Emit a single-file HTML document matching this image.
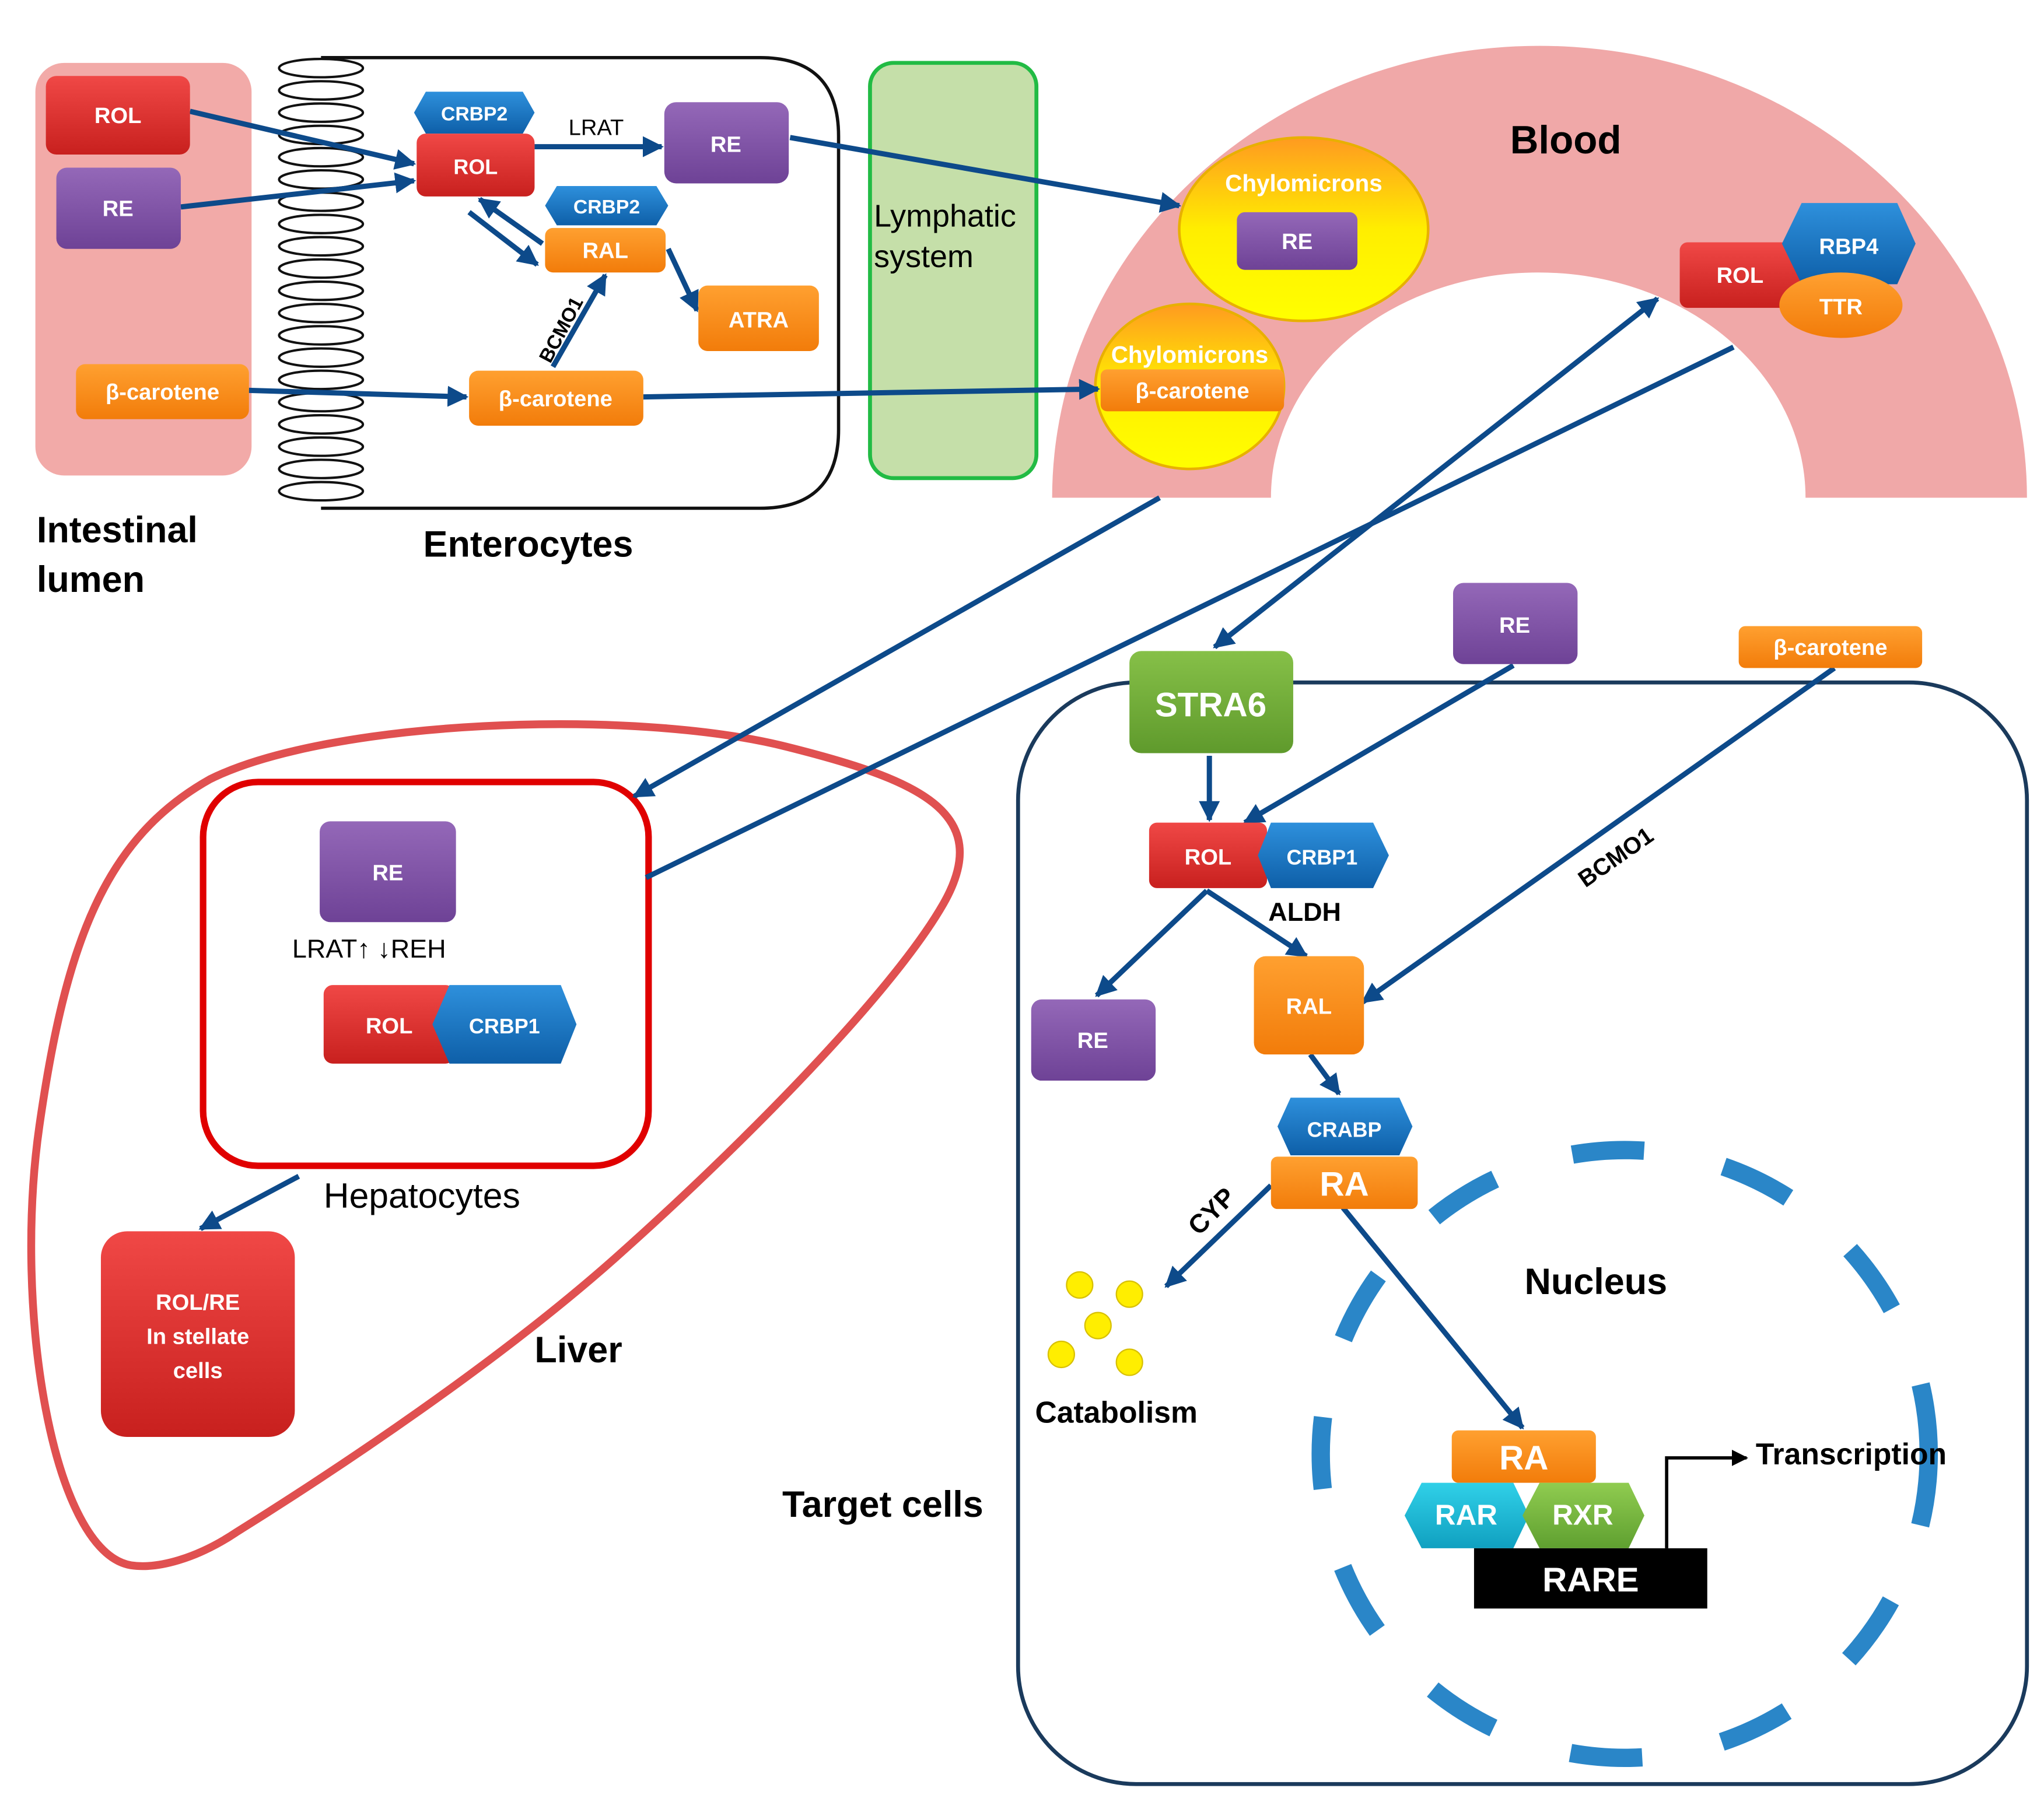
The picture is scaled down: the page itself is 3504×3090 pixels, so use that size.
<!DOCTYPE html>
<html><head><meta charset="utf-8"><style>html,body{margin:0;padding:0;background:#fff}svg{display:block}
text{font-family:"Liberation Sans",sans-serif}</style></head><body>
<svg width="3504" height="3090" viewBox="0 0 1560 1375.7" preserveAspectRatio="none" xmlns="http://www.w3.org/2000/svg">
<defs>
<marker id="a" viewBox="0 0 10 10" refX="9" refY="5" markerWidth="4" markerHeight="4" orient="auto-start-reverse"><path d="M0,0L10,5L0,10z" fill="#0d4a8a"/></marker>
<marker id="k" viewBox="0 0 10 10" refX="9" refY="5" markerWidth="5" markerHeight="5" orient="auto"><path d="M0,0L10,5L0,10z" fill="#000"/></marker>
<linearGradient id="gr" x1="0" y1="0" x2="0" y2="1"><stop offset="0" stop-color="#f04846"/><stop offset="1" stop-color="#c8201e"/></linearGradient>
<linearGradient id="gp" x1="0" y1="0" x2="0" y2="1"><stop offset="0" stop-color="#9468b8"/><stop offset="1" stop-color="#6e4296"/></linearGradient>
<linearGradient id="go" x1="0" y1="0" x2="0" y2="1"><stop offset="0" stop-color="#ffa030"/><stop offset="1" stop-color="#f27c0a"/></linearGradient>
<linearGradient id="gb" x1="0" y1="0" x2="0" y2="1"><stop offset="0" stop-color="#2e90dc"/><stop offset="1" stop-color="#0e5fa8"/></linearGradient>
<linearGradient id="gg" x1="0" y1="0" x2="0" y2="1"><stop offset="0" stop-color="#86c048"/><stop offset="1" stop-color="#5f9a2c"/></linearGradient>
<linearGradient id="gy" x1="0" y1="0" x2="0" y2="1"><stop offset="0" stop-color="#ff9a20"/><stop offset="0.5" stop-color="#ffee00"/><stop offset="1" stop-color="#ffff00"/></linearGradient>
<linearGradient id="gc" x1="0" y1="0" x2="0" y2="1"><stop offset="0" stop-color="#30d0e8"/><stop offset="1" stop-color="#10a0c0"/></linearGradient>
<linearGradient id="gx" x1="0" y1="0" x2="0" y2="1"><stop offset="0" stop-color="#90cc50"/><stop offset="1" stop-color="#5fa030"/></linearGradient>
</defs>
<!-- intestinal lumen -->
<rect x="27" y="48" width="165" height="315" rx="22" fill="#f2aaa8"/>
<!-- enterocyte -->
<path d="M245,44 H580 Q640,44 640,104 V328 Q640,388 580,388 H245" fill="none" stroke="#111" stroke-width="2.5"/>
<g fill="none" stroke="#111" stroke-width="1.8">
<ellipse cx="245" cy="52" rx="32" ry="7"/><ellipse cx="245" cy="69" rx="32" ry="7"/><ellipse cx="245" cy="86" rx="32" ry="7"/><ellipse cx="245" cy="103" rx="32" ry="7"/><ellipse cx="245" cy="120" rx="32" ry="7"/><ellipse cx="245" cy="137" rx="32" ry="7"/><ellipse cx="245" cy="154" rx="32" ry="7"/><ellipse cx="245" cy="171" rx="32" ry="7"/><ellipse cx="245" cy="188" rx="32" ry="7"/><ellipse cx="245" cy="205" rx="32" ry="7"/><ellipse cx="245" cy="222" rx="32" ry="7"/><ellipse cx="245" cy="239" rx="32" ry="7"/><ellipse cx="245" cy="256" rx="32" ry="7"/><ellipse cx="245" cy="273" rx="32" ry="7"/><ellipse cx="245" cy="290" rx="32" ry="7"/><ellipse cx="245" cy="307" rx="32" ry="7"/><ellipse cx="245" cy="324" rx="32" ry="7"/><ellipse cx="245" cy="341" rx="32" ry="7"/><ellipse cx="245" cy="358" rx="32" ry="7"/><ellipse cx="245" cy="375" rx="32" ry="7"/>
</g>
<!-- lymphatic -->
<rect x="664" y="48" width="127" height="317" rx="18" fill="#c5dfa9" stroke="#22bb44" stroke-width="3"/>
<text x="667" y="173" font-size="24">Lymphatic</text><text x="667" y="204" font-size="24">system</text>
<!-- blood -->
<path d="M803,380 A372,345 0 0 1 1547,380 H1378 A204,172 0 0 0 970,380 Z" fill="#f0a8a8"/>
<text x="1195" y="117" font-size="30" font-weight="bold" text-anchor="middle">Blood</text>
<ellipse cx="995" cy="175" rx="95" ry="70" fill="url(#gy)" stroke="#e8b000" stroke-width="2"/>
<text x="995" y="146" font-size="18" font-weight="bold" fill="#fff" text-anchor="middle">Chylomicrons</text>
<ellipse cx="908" cy="295" rx="72" ry="63" fill="url(#gy)" stroke="#e8b000" stroke-width="2"/>
<text x="908" y="277" font-size="18" font-weight="bold" fill="#fff" text-anchor="middle">Chylomicrons</text>
<!-- liver -->
<path d="M100,1195 C40,1185 10,1000 30,860 C50,720 80,640 160,595 C250,550 480,540 600,570 C700,595 760,620 720,690 C680,760 560,880 470,960 C380,1040 260,1120 180,1170 C150,1190 120,1198 100,1195 Z" fill="none" stroke="#e05050" stroke-width="6"/>
<rect x="155" y="597" width="340" height="293" rx="42" fill="#fff" stroke="#e00000" stroke-width="5"/>
<!-- target cells -->
<rect x="777" y="521" width="770" height="841" rx="90" fill="none" stroke="#1a3a5c" stroke-width="3"/>
<circle cx="1240" cy="1110" r="232" fill="none" stroke="#2a86c8" stroke-width="14" stroke-dasharray="55,62"/>
<!-- arrows -->
<g stroke="#0d4a8a" stroke-width="4" fill="none" marker-end="url(#a)">
<line x1="145" y1="85" x2="316" y2="125"/>
<line x1="138" y1="158" x2="316" y2="138"/>
<line x1="190" y1="298" x2="356" y2="303"/>
<line x1="408" y1="112" x2="505" y2="112"/>
<line x1="414" y1="186" x2="366" y2="152"/>
<line x1="358" y1="162" x2="410" y2="202"/>
<line x1="510" y1="190" x2="532" y2="237"/>
<line x1="422" y1="280" x2="462" y2="210"/>
<line x1="491" y1="303" x2="838" y2="297"/>
<line x1="603" y1="105" x2="900" y2="157"/>
<line x1="885" y1="380" x2="484" y2="608"/>
<line x1="927" y1="494" x2="1265" y2="228" marker-start="url(#a)"/>
<line x1="923" y1="577" x2="923" y2="626"/>
<line x1="1155" y1="508" x2="950" y2="628"/>
<line x1="1400" y1="510" x2="1040" y2="765"/>
<line x1="921" y1="680" x2="837" y2="760"/>
<line x1="921" y1="680" x2="997" y2="730"/>
<line x1="1000" y1="805" x2="1022" y2="835"/>
<line x1="970" y1="905" x2="890" y2="982"/>
<line x1="1025" y1="922" x2="1162" y2="1090"/>
<line x1="228" y1="898" x2="153" y2="938"/>
</g>
<line x1="1323" y1="265" x2="493" y2="670" stroke="#0d4a8a" stroke-width="4"/>
<!-- boxes -->
<g font-weight="bold" fill="#fff" text-anchor="middle" font-size="17">
<rect x="35" y="58" width="110" height="60" rx="8" fill="url(#gr)"/><text x="90" y="94" fill="#fff">ROL</text>
<rect x="43" y="128" width="95" height="62" rx="8" fill="url(#gp)"/><text x="90" y="165" fill="#fff">RE</text>
<rect x="58" y="278" width="132" height="42" rx="7" fill="url(#go)"/><text x="124" y="305" fill="#fff">β-carotene</text>
<polygon points="325,70 399,70 408,86 399,102 325,102 316,86" fill="url(#gb)"/><text x="362" y="92" font-size="15" fill="#fff">CRBP2</text>
<rect x="318" y="102" width="90" height="48" rx="7" fill="url(#gr)"/><text x="363" y="133" font-size="16" fill="#fff">ROL</text>
<rect x="507" y="78" width="95" height="62" rx="9" fill="url(#gp)"/><text x="554" y="116" fill="#fff">RE</text>
<polygon points="425,142 501,142 510,157 501,172 425,172 416,157" fill="url(#gb)"/><text x="463" y="163" font-size="15" fill="#fff">CRBP2</text>
<rect x="416" y="174" width="92" height="34" rx="6" fill="url(#go)"/><text x="462" y="197" fill="#fff">RAL</text>
<rect x="533" y="218" width="92" height="50" rx="7" fill="url(#go)"/><text x="579" y="250" fill="#fff">ATRA</text>
<rect x="358" y="283" width="133" height="42" rx="7" fill="url(#go)"/><text x="424" y="310" fill="#fff">β-carotene</text>
<rect x="944" y="162" width="92" height="44" rx="6" fill="url(#gp)"/><text x="990" y="190" fill="#fff">RE</text>
<rect x="840" y="282" width="140" height="32" rx="5" fill="url(#go)"/><text x="910" y="304" fill="#fff">β-carotene</text>
<rect x="1282" y="185" width="92" height="50" rx="6" fill="url(#gr)"/><text x="1328" y="216" fill="#fff">ROL</text>
<polygon points="1375,155 1448,155 1462,186 1448,217 1375,217 1360,186" fill="url(#gb)"/><text x="1411" y="194" fill="#fff">RBP4</text>
<ellipse cx="1405" cy="233" rx="47" ry="25" fill="url(#go)"/><text x="1405" y="240" fill="#fff">TTR</text>
<rect x="862" y="497" width="125" height="78" rx="9" fill="url(#gg)"/><text x="924" y="547" font-size="26" fill="#fff">STRA6</text>
<rect x="1109" y="445" width="95" height="62" rx="8" fill="url(#gp)"/><text x="1156" y="483" fill="#fff">RE</text>
<rect x="1327" y="478" width="140" height="32" rx="5" fill="url(#go)"/><text x="1397" y="500" fill="#fff">β-carotene</text>
<rect x="877" y="628" width="90" height="50" rx="6" fill="url(#gr)"/><text x="922" y="660" fill="#fff">ROL</text>
<polygon points="970,628 1048,628 1060,653 1048,678 970,678 960,653" fill="url(#gb)"/><text x="1009" y="660" font-size="16" fill="#fff">CRBP1</text>
<rect x="787" y="763" width="95" height="62" rx="8" fill="url(#gp)"/><text x="834" y="800" fill="#fff">RE</text>
<rect x="957" y="730" width="84" height="75" rx="9" fill="url(#go)"/><text x="999" y="774" fill="#fff">RAL</text>
<polygon points="985,838 1068,838 1078,860 1068,882 985,882 975,860" fill="url(#gb)"/><text x="1026" y="868" font-size="16" fill="#fff">CRABP</text>
<rect x="970" y="883" width="112" height="40" rx="5" fill="url(#go)"/><text x="1026" y="913" font-size="26" fill="#fff">RA</text>
<rect x="1108" y="1092" width="110" height="40" rx="5" fill="url(#go)"/><text x="1163" y="1122" font-size="26" fill="#fff">RA</text>
<polygon points="1085,1132 1155,1132 1167,1157 1155,1182 1085,1182 1072,1157" fill="url(#gc)"/><text x="1119" y="1164" font-size="22" fill="#fff">RAR</text>
<polygon points="1175,1132 1243,1132 1255,1157 1243,1182 1175,1182 1162,1157" fill="url(#gx)"/><text x="1208" y="1164" font-size="22" fill="#fff">RXR</text>
<rect x="1125" y="1182" width="178" height="46" fill="#000"/><text x="1214" y="1215" font-size="26" fill="#fff">RARE</text>
<rect x="244" y="627" width="104" height="77" rx="8" fill="url(#gp)"/><text x="296" y="672" fill="#fff">RE</text>
<rect x="247" y="752" width="100" height="60" rx="7" fill="url(#gr)"/><text x="297" y="789" fill="#fff">ROL</text>
<polygon points="343,752 428,752 440,782 428,812 343,812 330,782" fill="url(#gb)"/><text x="385" y="789" font-size="16" fill="#fff">CRBP1</text>
<rect x="77" y="940" width="148" height="157" rx="20" fill="url(#gr)"/>
<text x="151" y="1000" fill="#fff">ROL/RE</text><text x="151" y="1026" fill="#fff">In stellate</text><text x="151" y="1052" fill="#fff">cells</text>
</g>
<!-- yellow dots -->
<g fill="#ffee00" stroke="#d8c000" stroke-width="1"><circle cx="824" cy="981" r="10"/><circle cx="862" cy="988" r="10"/><circle cx="838" cy="1012" r="10"/><circle cx="810" cy="1034" r="10"/><circle cx="862" cy="1040" r="10"/></g>
<!-- transcription -->
<polyline points="1272,1182 1272,1113 1333,1113" fill="none" stroke="#000" stroke-width="2.5" marker-end="url(#k)"/>
<!-- labels -->
<g font-size="17">
<text x="455" y="103" text-anchor="middle">LRAT</text>
<text x="420" y="278" transform="rotate(-62 420 278)" font-size="15" font-weight="bold">BCMO1</text>
<text x="968" y="703" font-size="20" font-weight="bold">ALDH</text>
<text x="1210" y="678" transform="rotate(-35 1210 678)" font-size="18" font-weight="bold">BCMO1</text>
<text x="915" y="944" transform="rotate(-45 915 944)" font-size="20" font-weight="bold">CYP</text>
<text x="223" y="731" font-size="20">LRAT↑ ↓REH</text>
</g>
<g font-weight="bold">
<text x="28" y="414" font-size="28">Intestinal</text><text x="28" y="452" font-size="28">lumen</text>
<text x="323" y="425" font-size="28">Enterocytes</text>
<text x="408" y="1040" font-size="28">Liver</text>
<text x="597" y="1158" font-size="28">Target cells</text>
<text x="1218" y="988" font-size="28" text-anchor="middle">Nucleus</text>
<text x="790" y="1086" font-size="23">Catabolism</text>
<text x="1340" y="1118" font-size="23">Transcription</text>
</g>
<text x="247" y="922" font-size="27">Hepatocytes</text>
</svg>
</body></html>
